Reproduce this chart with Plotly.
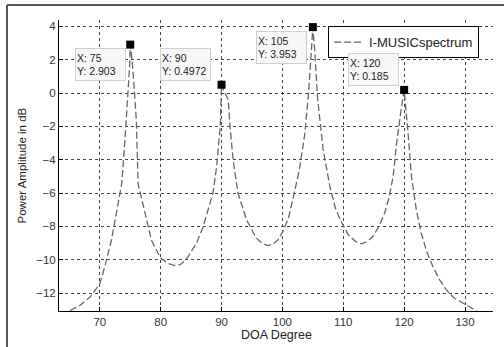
import plotly.graph_objects as go

# ---- data ----
doa_deg = [65.1, 66.7, 68.4, 70.0, 70.8, 71.9, 72.7, 73.6, 74.1, 74.6, 74.9, 75.0,
           75.3, 75.6, 76.0, 76.3, 77.4, 78.5, 79.9, 81.0, 82.3, 83.2, 84.2, 85.9,
           87.0, 88.1, 88.6, 89.2, 89.5, 89.8, 90.0, 90.4, 91.1, 91.4, 91.9, 92.7,
           94.1, 95.7, 96.6, 97.6, 98.5, 99.3, 100.1, 101.0, 101.7, 102.8, 103.7,
           104.3, 104.7, 105.0, 105.3, 105.8, 106.7, 107.8, 108.7, 109.5, 110.8,
           112.0, 113.0, 114.0, 114.9, 116.0, 116.8, 117.5, 118.2, 118.7, 119.5,
           120.0, 120.6, 121.2, 122.0, 122.8, 123.7, 124.7, 125.8, 126.9, 128.2,
           129.6, 130.6, 132.0]
power_db = [-13.05, -12.75, -12.25, -11.45, -10.45, -8.85, -7.25, -5.45, -3.0, -0.4, 1.6, 2.903,
            2.0, 0.6, -1.6, -5.45, -7.25, -8.85, -9.85, -10.2, -10.35, -10.3, -10.0, -9.0,
            -8.0, -6.6, -6.0, -4.4, -3.2, -2.0, 0.4972, 0.1, -0.4, -2.0, -4.0, -6.0,
            -7.6, -8.7, -9.0, -9.15, -9.05, -8.8, -8.3, -7.5, -6.4, -4.6, -2.4,
            0.0, 2.2, 3.953, 2.6, -0.4, -3.4, -5.6, -6.9, -7.6, -8.5,
            -8.9, -9.05, -8.9, -8.6, -7.9, -7.2, -6.3, -5.0, -3.2, -1.0,
            0.185, -2.2, -5.0, -7.0, -8.4, -9.5, -10.4, -11.2, -11.8, -12.3,
            -12.6, -12.85, -13.1]

peak_x = [75, 90, 105, 120]
peak_y = [2.903, 0.4972, 3.953, 0.185]

x_ticks = [70, 80, 90, 100, 110, 120, 130]
y_ticks = [-12, -10, -8, -6, -4, -2, 0, 2, 4]

series_name = "I-MUSICspectrum"
x_title = "DOA Degree"
y_title = "Power Amplitude in dB"

FONT = "Liberation Sans, Arial, sans-serif"

fig = go.Figure()
fig.add_trace(go.Scatter(
    x=doa_deg, y=power_db, mode="lines", name=series_name,
    line=dict(color="#666666", width=1.3, dash="7px,3px"),
))
fig.add_trace(go.Scatter(
    x=peak_x, y=peak_y, mode="markers", showlegend=False,
    marker=dict(symbol="square", size=8, color="black"),
))

# data tip boxes
shifts = [(-30, -20), (-36, 20), (-31, -20), (-31, 20)]
for (px, py), (dx, dy) in zip(zip(peak_x, peak_y), shifts):
    fig.add_annotation(
        x=px, y=py, xref="x", yref="y", showarrow=False,
        text=f"X: {px}<br>Y: {py:g}", align="left",
        xanchor="center", yanchor="middle", xshift=dx, yshift=dy,
        font=dict(family=FONT, size=10.5, color="#222"),
        bgcolor="#f7f7f7", bordercolor="#cfcfcf", borderwidth=1, borderpad=1,
        width=47, height=29,
    )

# axis titles
fig.add_annotation(x=-0.0853, y=0.5, xref="paper", yref="paper", showarrow=False,
                   text=y_title, textangle=-90, xanchor="center", yanchor="middle",
                   font=dict(family=FONT, size=11.5, color="#222"))
fig.add_annotation(x=0.5, y=-0.0825, xref="paper", yref="paper", showarrow=False,
                   text=x_title, xanchor="center", yanchor="middle",
                   font=dict(family=FONT, size=12.5, color="#222"))

# outer figure frame (left and top edges)
fig.add_shape(type="line", xref="paper", yref="paper", x0=-0.1198, x1=-0.1198,
              y0=-0.2, y1=1.0515, line=dict(color="#555", width=2))
fig.add_shape(type="line", xref="paper", yref="paper", x0=-0.1198, x1=1.1,
              y0=1.0515, y1=1.0515, line=dict(color="#555", width=2))

axis_common = dict(
    showline=True, linecolor="black", linewidth=1, mirror=False,
    showgrid=True, gridcolor="#444", griddash="dot", gridwidth=1,
    zeroline=False, ticks="inside", ticklen=4, tickcolor="black",
    tickfont=dict(family=FONT, size=11.5, color="#333"),
)
fig.update_xaxes(range=[63.3, 134.6], tickvals=x_ticks, **axis_common)
fig.update_yaxes(range=[-13.08, 4.38], tickvals=y_ticks, **axis_common)

fig.update_layout(
    width=504, height=347,
    margin=dict(l=59, r=11, t=20, b=36),
    paper_bgcolor="white", plot_bgcolor="white",
    font=dict(family=FONT),
    legend=dict(x=0.62, y=0.979, xanchor="left", yanchor="top",
                bgcolor="white", bordercolor="black", borderwidth=1,
                font=dict(family=FONT, size=13, color="#222"),
                itemwidth=30, tracegroupgap=0),
    showlegend=True,
)

fig.write_html("out.html", config={"displayModeBar": False},
               post_script="document.body.style.margin='0';")
